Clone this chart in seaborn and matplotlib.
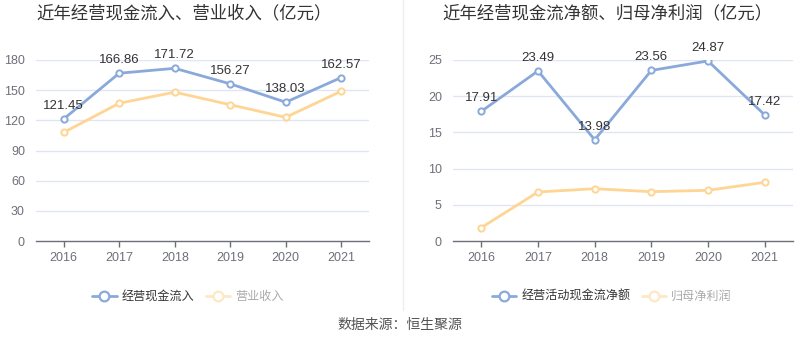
import matplotlib
matplotlib.use("Agg")
import matplotlib.pyplot as plt
from matplotlib.lines import Line2D
import seaborn as sns
import pandas as pd

years = ["2016", "2017", "2018", "2019", "2020", "2021"]
cash_inflow = [121.45, 166.86, 171.72, 156.27, 138.03, 162.57]
revenue = [108.0, 137.0, 148.0, 135.5, 123.0, 149.0]
net_cash_flow = [17.91, 23.49, 13.98, 23.56, 24.87, 17.42]
net_profit = [1.85, 6.77, 7.22, 6.81, 7.0, 8.1]

left_title = "近年经营现金流入、营业收入（亿元）"
right_title = "近年经营现金流净额、归母净利润（亿元）"
left_names = ["经营现金流入", "营业收入"]
right_names = ["经营活动现金流净额", "归母净利润"]
source = "数据来源：恒生聚源"

left_ticks = [0, 30, 60, 90, 120, 150, 180]
right_ticks = [0, 5, 10, 15, 20, 25]

sns.set_style("white")
plt.rcParams["font.family"] = ["Liberation Sans", "Noto Sans CJK SC", "DejaVu Sans"]

BLUE = "#8aa9db"
YELLOW = "#fed594"
BLUE_LEG = "#8aa9db"
YELLOW_LEG = "#fee8c4"
GRID = "#e0e6f1"
AXIS = "#6e7079"
TICK = "#6e7079"

W, H = 800, 358
fig = plt.figure(figsize=(W / 100, H / 100), dpi=100)


def px_axes(x0, x1, ytop, ybot):
    return fig.add_axes([x0 / W, (H - ybot) / H, (x1 - x0) / W, (ybot - ytop) / H])


def draw_panel(ax, s1, s2, names, ticks, labels_fmt):
    x = list(range(len(years)))
    df = pd.DataFrame({"x": x + x,
                       "v": list(s1) + list(s2),
                       "s": [names[0]] * len(x) + [names[1]] * len(x)})
    sns.lineplot(data=df[df.s == names[1]], x="x", y="v", ax=ax, color=YELLOW,
                 lw=2, marker="o", markersize=4.5, markerfacecolor="white",
                 markeredgecolor=YELLOW, markeredgewidth=1.4, legend=False, zorder=3)
    sns.lineplot(data=df[df.s == names[0]], x="x", y="v", ax=ax, color=BLUE,
                 lw=2, marker="o", markersize=4.5, markerfacecolor="white",
                 markeredgecolor=BLUE, markeredgewidth=1.4, legend=False, zorder=4)
    for xi, v in zip(x, s1):
        ax.annotate(labels_fmt.format(v), (xi, v), xytext=(0, 5),
                    textcoords="offset points", ha="center", va="bottom",
                    fontsize=9.5, color="#333333", zorder=5)
    ax.set_xlim(-0.5, len(years) - 0.5)
    ax.set_ylim(ticks[0], ticks[-1])
    ax.set_yticks(ticks)
    ax.set_yticklabels([str(t) for t in ticks])
    ax.set_xticks(x)
    ax.set_xticklabels(years)
    ax.set_xlabel("")
    ax.set_ylabel("")
    for sp in ["top", "right", "left"]:
        ax.spines[sp].set_visible(False)
    ax.spines["bottom"].set_color(AXIS)
    ax.spines["bottom"].set_linewidth(1)
    ax.grid(axis="y", color=GRID, lw=1)
    ax.set_axisbelow(True)
    ax.tick_params(axis="y", length=0, pad=8, labelsize=9, labelcolor=TICK)
    ax.tick_params(axis="x", length=4, width=1, color=AXIS, pad=4,
                   labelsize=9, labelcolor=TICK, direction="out", bottom=True)
    for gl in ax.get_ygridlines()[:1]:
        gl.set_visible(False)


ax1 = px_axes(36, 369, 60, 241)
draw_panel(ax1, cash_inflow, revenue, left_names, left_ticks, "{:.2f}")
ax2 = px_axes(453, 793, 60, 241)
draw_panel(ax2, net_cash_flow, net_profit, right_names, right_ticks, "{:.2f}")

fig.text(184 / W, 1 - 13 / H, left_title, ha="center", va="center",
         fontsize=12.5, color="#333333")
fig.text(607 / W, 1 - 13 / H, right_title, ha="center", va="center",
         fontsize=12.5, color="#333333")

# divider
fig.add_artist(Line2D([403 / W, 403 / W], [1 - 310 / H, 1.0], color="#eeeeee",
                      lw=1, transform=fig.transFigure))


def legend(ax, names, cx):
    handles = [Line2D([], [], color=BLUE_LEG, lw=2, marker="o", markersize=7,
                      markerfacecolor="white", markeredgecolor=BLUE_LEG, markeredgewidth=1.6),
               Line2D([], [], color=YELLOW_LEG, lw=2, marker="o", markersize=7,
                      markerfacecolor="white", markeredgecolor=YELLOW_LEG, markeredgewidth=1.6)]
    leg = fig.legend(handles, names, loc="center", bbox_to_anchor=(cx / W, 1 - 297 / H),
                     ncol=2, frameon=False, fontsize=8.7, handlelength=2.0,
                     handletextpad=0.4, columnspacing=1.0)
    leg.get_texts()[0].set_color("#333333")
    leg.get_texts()[1].set_color("#aaaaaa")


legend(ax1, left_names, 188)
legend(ax2, right_names, 612)

fig.text(400 / W, 1 - 325 / H, source, ha="center", va="center",
         fontsize=10, color="#555555")

fig.savefig("out.png", dpi=100)
